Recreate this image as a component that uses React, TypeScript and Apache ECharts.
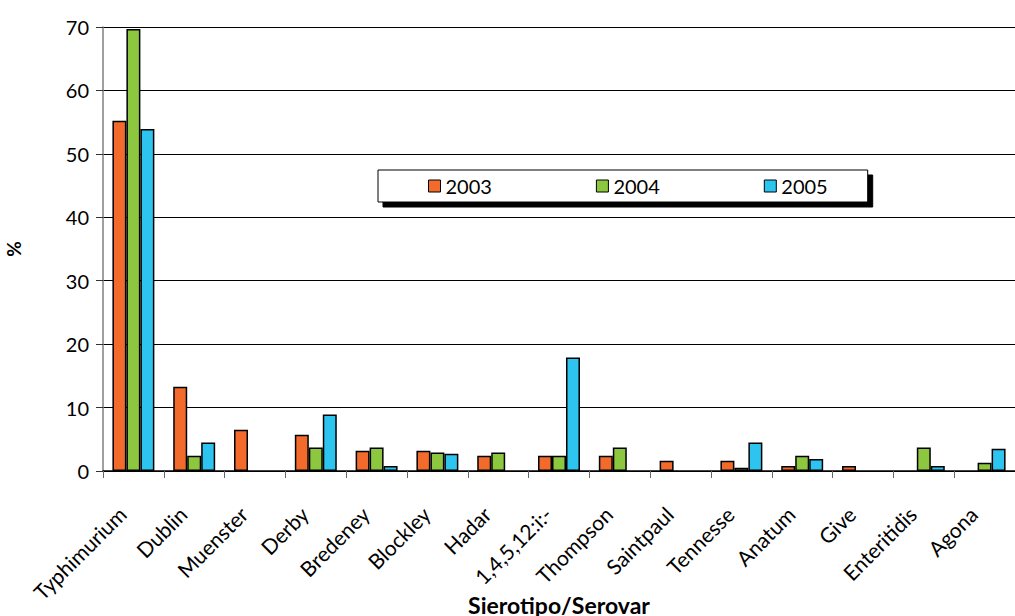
import React, { useEffect, useRef } from "react";
import * as echarts from "echarts";

const serovars = [
  "Typhimurium", "Dublin", "Muenster", "Derby", "Bredeney", "Blockley", "Hadar",
  "1,4,5,12:i:-", "Thompson", "Saintpaul", "Tennesse", "Anatum", "Give", "Enteritidis", "Agona",
];
const years = ["2003", "2004", "2005"];
const pct2003 = [55.2, 13.3, 6.5, 5.7, 3.2, 3.2, 2.4, 2.4, 2.4, 1.6, 1.6, 0.8, 0.8, null, null];
const pct2004 = [69.7, 2.4, null, 3.7, 3.7, 2.9, 2.9, 2.4, 3.7, null, 0.5, 2.4, null, 3.7, 1.3];
const pct2005 = [53.9, 4.5, null, 8.9, 0.8, 2.7, null, 17.9, null, null, 4.5, 1.9, null, 0.8, 3.5];
const yTicks = [0, 10, 20, 30, 40, 50, 60, 70];
const colors = ["#F26B2C", "#8DC63F", "#2EC4F0"];

const FONT = "Lato, 'DejaVu Sans', sans-serif";

export default function App() {
  const ref = useRef<HTMLDivElement>(null);

  useEffect(() => {
    if (!ref.current) return;
    const chart = echarts.init(ref.current, undefined, { renderer: "svg" });
    const values = [pct2003, pct2004, pct2005];
    chart.setOption({
      animation: false,
      backgroundColor: "#ffffff",
      textStyle: { fontFamily: FONT },
      grid: {
        left: 103,
        right: 0,
        top: 27,
        height: 444,
        containLabel: false,
        outerBoundsMode: "none",
      },
      legend: {
        data: years,
        left: 378,
        top: 170,
        itemWidth: 12,
        itemHeight: 12,
        itemGap: 104,
        padding: [6, 40, 6, 50],
        borderColor: "#000",
        borderWidth: 1,
        backgroundColor: "#fff",
        shadowColor: "#000",
        shadowBlur: 0,
        shadowOffsetX: 5,
        shadowOffsetY: 5,
        textStyle: { fontFamily: FONT, fontSize: 20, color: "#000" },
        icon: "rect",
        itemStyle: { borderColor: "#000", borderWidth: 1 },
      },
      xAxis: {
        type: "category",
        data: serovars,
        name: "Sierotipo/Serovar",
        nameLocation: "middle",
        nameGap: 122,
        nameMoveOverlap: false,
        nameTextStyle: { fontFamily: FONT, fontSize: 23, fontWeight: "bold", color: "#000" },
        axisLine: { lineStyle: { color: "#000", width: 1.5 } },
        axisTick: { show: true, length: 7, lineStyle: { color: "#666" } },
        axisLabel: {
          rotate: 45,
          interval: 0,
          margin: 28,
          padding: [0, 16, 0, 0],
          fontFamily: FONT,
          fontSize: 21,
          color: "#000",
        },
      },
      yAxis: {
        type: "value",
        min: yTicks[0],
        max: yTicks[yTicks.length - 1],
        interval: 10,
        name: "%",
        nameLocation: "middle",
        nameRotate: 90,
        nameGap: 80,
        nameTextStyle: { fontFamily: FONT, fontSize: 19, fontWeight: "bold", color: "#000" },
        axisLine: { show: true, lineStyle: { color: "#808080", width: 1.5 } },
        axisTick: { show: true, length: 7, lineStyle: { color: "#333" } },
        axisLabel: { fontFamily: FONT, fontSize: 20, color: "#000", margin: 14 },
        splitLine: { show: true, lineStyle: { color: "#000", width: 1 } },
      },
      series: years.map((y, i) => ({
        name: y,
        type: "bar",
        data: values[i],
        barGap: "0%",
        barCategoryGap: "31%",
        itemStyle: { color: colors[i], borderColor: "#000", borderWidth: 1.5 },
      })),
    });
    return () => chart.dispose();
  }, []);

  return (
    <div
      ref={ref}
      style={{ position: "fixed", left: 0, top: 0, width: 1015, height: 616 }}
    />
  );
}
